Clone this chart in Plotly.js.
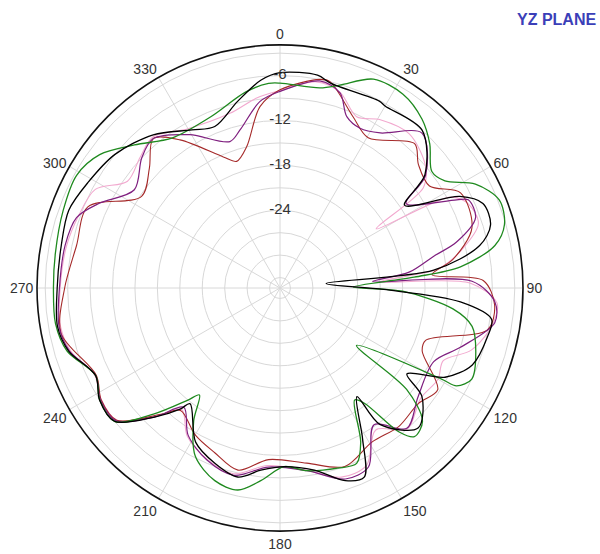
<!DOCTYPE html>
<html><head><meta charset="utf-8">
<script src="https://cdn.plot.ly/plotly-3.0.1.min.js"></script>
<style>html,body{margin:0;padding:0;background:#fff}</style></head>
<body><div id="chart" style="width:600px;height:554px"></div>
<script>
const angleTicks = [0,30,60,90,120,150,180,210,240,270,300,330];
const angleLabels = ['0','30','60','90','120','150','180','210','240','270','300','330'];
const radialGrid = [-33,-30,-27,-24,-21,-18,-15,-12,-9,-6,-3];
const radialLabelVals = [-24,-18,-12,-6];
const radialLabels = ['-24','-18','-12','-6'];

const blackTheta = [0,10,14,28,30,42,52,56.4,63,67.4,73.3,78,83.4,84.4,90.8,94.4,98.4,103.3,111.8,118.4,124.1,127.4,135.4,143.8,144.7,151.3,156,161.3,169.3,178.7,186,192.6,200.4,208.7,217.9,219.5,224.4,231.1,238.2,244.6,253.4,260.2,270,281,290.2,298.8,309,320.4,330.9,338,347.2,354.7,360];
const blackR = [-5.6,-5.5,-6.2,-6.1,-6.3,-6.0,-9.8,-14.4,-7.4,-5.0,-5.0,-7.1,-13.7,-28.2,-20.5,-10.2,-5.8,-5.9,-6.7,-9.3,-13.9,-10.5,-8.1,-11.8,-16.6,-11.4,-6.7,-7.2,-9.6,-10.5,-9.9,-8.5,-9.4,-10.9,-14.8,-13.4,-10.2,-6.0,-6.0,-7.1,-4.9,-4.2,-4.6,-4.6,-4.3,-5.1,-6.0,-7.8,-10.2,-11.1,-8.8,-6.5,-5.6];

const greenTheta = [0,11.3,16.5,24.1,32.4,40.1,46.1,52.5,57,62,68.1,74.2,78.8,83.3,85.4,89.2,91.5,96.9,101.3,107.8,115.4,119,119.4,126.9,128.7,133.1,137.9,140.4,143.8,146.3,152.4,156.4,162.3,171.6,178.7,185.7,191.8,198.7,206.7,213,217,219.4,225.1,231,238,244.6,253.5,261,270,278.7,289.7,299,306.5,314.5,324.4,338,350,356.8,360];
const greenR = [-7.0,-7.1,-6.1,-3.8,-3.7,-4.9,-6.6,-8.8,-8.1,-4.8,-2.8,-3.2,-5.1,-10.1,-16.4,-24.6,-18.0,-11.1,-8.2,-6.9,-6.0,-7.4,-9.6,-21.6,-12.7,-8.3,-7.6,-9.4,-15.3,-16.4,-11.1,-8.8,-9.1,-9.7,-10.5,-8.5,-6.8,-7.2,-9.2,-13.2,-16.5,-15.0,-10.5,-6.0,-6.0,-7.1,-4.7,-4.0,-4.1,-4.0,-3.6,-3.3,-4.4,-7.1,-9.7,-9.7,-7.8,-7.0,-7.0];

const purpleTheta = [0,10.9,17.1,21.3,26.6,32.9,42.5,52.3,56.2,63.5,64.9,70.2,75.4,78.3,83,86,88,93.7,99.2,108.2,115.6,128.2,137.9,145.5,153.7,161.1,171.6,183.7,193.8,203,212,218.9,224,231,238,244.6,253.4,260,270,281.2,289.1,295.1,304,313.3,319.7,329.5,341.1,345.8,353.9,360];
const purpleR = [-8.1,-6.2,-7.1,-9.8,-10.5,-9.7,-6.3,-9.8,-14.1,-8.0,-6.6,-6.6,-10.0,-13.4,-17,-22,-8.7,-5.6,-5.3,-9.0,-11.6,-10.9,-9.1,-12.2,-7.7,-7.4,-9.7,-10.4,-8.6,-9.4,-11.2,-13.9,-10.5,-6.2,-6.1,-7.1,-5.0,-4.4,-4.9,-5.1,-5.6,-7.7,-10.9,-9.0,-8.2,-10.6,-13.7,-12.6,-9.3,-8.1];

const redTheta = [0,10.8,13.6,23.1,30.4,43,48.3,55.7,62.2,72.6,80.7,85,87.9,94.6,101.4,109.8,113.9,122.8,129.9,139.3,149.2,160,171.3,183.8,193,201.6,209.9,219.1,223.3,231,238,244.6,258.3,270,281.8,292.9,303.5,312.5,319.7,326,336.6,341.1,346.7,353.7,360];
const redR = [-7.9,-6.0,-6.0,-9.5,-11.1,-8.0,-9.6,-10.2,-7.1,-7.5,-11.0,-14,-7.2,-5.6,-6.1,-13.7,-13.6,-9.3,-10.3,-10.0,-10.4,-9.0,-10.7,-11.4,-9.4,-10.7,-11.7,-13.3,-11.2,-6.3,-6.2,-7.2,-4.5,-5.6,-6.6,-6.5,-12.2,-10.7,-8.2,-10.5,-15.3,-16.5,-15.0,-10.0,-7.9];

const pinkTheta = [0,10,17,24.1,30.8,40,50,55,58.4,62,66,72,78,83,86.5,88.5,94,100,108,114,120,128,138,146,154,162,172,184,194,203,212,219,224,231,238,245,253,260,270,281,290,298.1,305,313,320,330,344,353,360];
const pinkR = [-8.0,-6.4,-7.0,-9.3,-8.2,-7.5,-9.0,-11,-19.3,-8.5,-6.8,-6.5,-9.5,-13,-21,-9,-5.3,-5.6,-7.5,-10.5,-10.0,-10.5,-9.0,-11.5,-8.0,-7.8,-9.8,-10.6,-8.8,-9.5,-11.0,-13.5,-10.5,-6.3,-6.2,-7.0,-5.2,-4.6,-5.0,-5.3,-5.8,-6.4,-9.5,-8.8,-8.0,-9.8,-10.1,-8.8,-8.0];

function line(theta, r, color, w) {
  return {type:'scatterpolar', mode:'lines', theta:theta, r:r,
          line:{color:color, width:w, shape:'spline', smoothing:0.9}, hoverinfo:'skip'};
}
const data = [
  line(pinkTheta, pinkR, '#f2a9cf', 1.1),
  line(redTheta, redR, '#a52a2a', 1.1),
  line(purpleTheta, purpleR, '#7f1f7f', 1.2),
  line(greenTheta, greenR, '#1f8a1f', 1.3),
  line(blackTheta, blackR, '#000000', 1.3),
  {type:'scatterpolar', mode:'text', theta:radialLabelVals.map(()=>0), r:radialLabelVals,
   text:radialLabels, textposition:'middle center',
   textfont:{family:'Liberation Sans, Arial, sans-serif', size:15, color:'#333'}, hoverinfo:'skip'}
];
const layout = {
  width:600, height:554, margin:{l:0,r:0,t:0,b:0}, showlegend:false,
  paper_bgcolor:'#fff',
  polar:{
    domain:{x:[37/600, 523/600], y:[23/554, 509/554]},
    bgcolor:'#fff',
    angularaxis:{rotation:90, direction:'clockwise', tickmode:'array',
      tickvals:angleTicks, ticktext:angleLabels, ticks:'', showline:true,
      linecolor:'#111', linewidth:1.6, gridcolor:'#d8d8d8', gridwidth:1,
      tickfont:{family:'Liberation Sans, Arial, sans-serif', size:14, color:'#333'}},
    radialaxis:{range:[-34.4,-1.9], tickmode:'array', tickvals:radialGrid,
      showticklabels:false, ticks:'', showline:false, gridcolor:'#d8d8d8', gridwidth:1, angle:90}
  },
  annotations:[{xref:'paper', yref:'paper', x:0.996, y:(554-20)/554, xanchor:'right', yanchor:'middle',
    text:'<b>YZ PLANE</b>', showarrow:false,
    font:{family:'Liberation Sans, Arial, sans-serif', size:16, color:'#3b3fb8'}}]
};
Plotly.newPlot('chart', data, layout, {displayModeBar:false, staticPlot:true});
</script></body></html>
